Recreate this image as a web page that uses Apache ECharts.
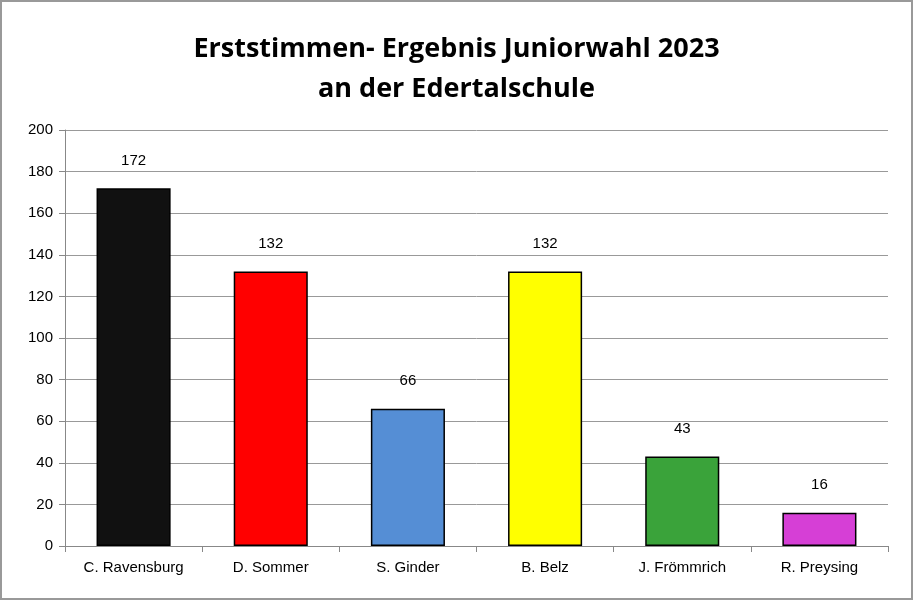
<!DOCTYPE html>
<html><head><meta charset="utf-8">
<script src="https://cdn.jsdelivr.net/npm/echarts@6/dist/echarts.min.js"></script>
<style>html,body{margin:0;padding:0;background:#fff}#c{width:913px;height:600px;box-sizing:border-box;border:2px solid #999}</style>
</head><body><div id="c"></div>
<script>
const categories=["C. Ravensburg","D. Sommer","S. Ginder","B. Belz","J. Frömmrich","R. Preysing"];
const values=[172,132,66,132,43,16];
const colors=["#111111","#ff0000","#558ed5","#ffff00","#3aa33a","#d63fd6"];
const yTicks={min:0,max:200,interval:20};
const chart=echarts.init(document.getElementById('c'));
chart.setOption({
 animation:false,
 title:{text:"Erststimmen- Ergebnis Juniorwahl 2023\nan der Edertalschule",left:'center',top:22,
  textStyle:{fontFamily:"Open Sans",fontWeight:'bold',fontSize:27,lineHeight:40,color:'#000'}},
 grid:{left:63,right:23,top:128,bottom:52},
 xAxis:{type:'category',data:categories,
  axisLine:{lineStyle:{color:'#888'}},axisTick:{show:true,length:6,lineStyle:{color:'#888'}},
  axisLabel:{fontFamily:"Liberation Sans",fontSize:15,color:'#000',margin:14}},
 yAxis:{type:'value',min:yTicks.min,max:yTicks.max,interval:yTicks.interval,
  axisLine:{show:true,lineStyle:{color:'#888'}},axisTick:{show:true,length:6,lineStyle:{color:'#888'}},
  splitLine:{lineStyle:{color:'#999'}},
  axisLabel:{fontFamily:"Liberation Sans",fontSize:15,color:'#000',margin:12}},
 series:[{type:'bar',barWidth:'54%',
  data:values.map((v,i)=>({value:v,itemStyle:{color:colors[i]}})),
  itemStyle:{borderColor:'#000',borderWidth:1.5},
  label:{show:true,position:'top',distance:20,fontFamily:"Liberation Sans",fontSize:15,color:'#000'}}]
});
</script></body></html>
